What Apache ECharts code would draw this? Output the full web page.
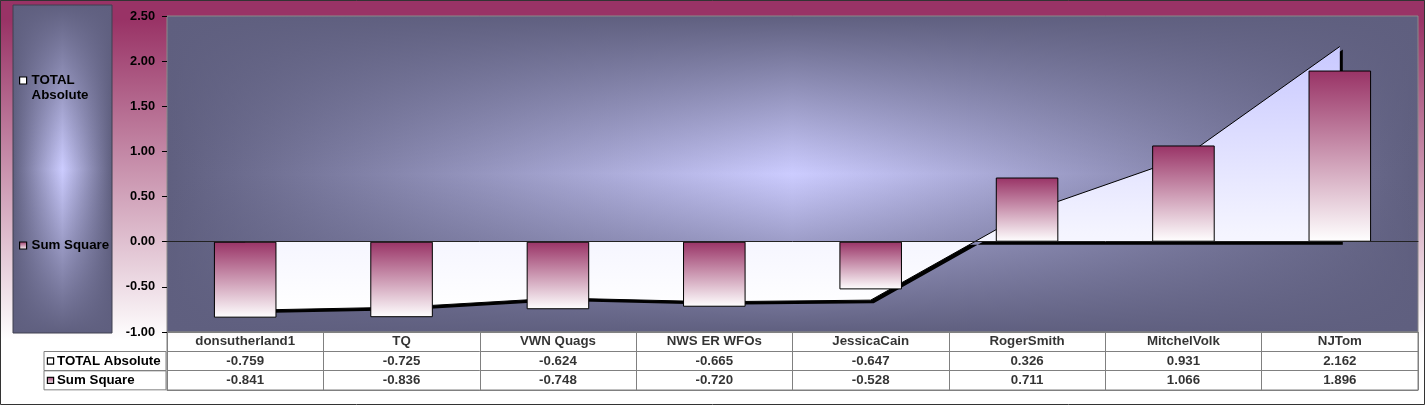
<!DOCTYPE html>
<html><head><meta charset="utf-8">
<script src="https://cdn.jsdelivr.net/npm/echarts@6/dist/echarts.min.js"></script>
<style>html,body{margin:0;padding:0;background:#fff}#c{width:1425px;height:405px}</style>
</head><body><div id="c"></div>
<script>
const categories = ['donsutherland1','TQ','VWN Quags','NWS ER WFOs','JessicaCain','RogerSmith','MitchelVolk','NJTom'];
const totalAbsolute = [-0.759,-0.725,-0.624,-0.665,-0.647,0.326,0.931,2.162];
const sumSquare = [-0.841,-0.836,-0.748,-0.720,-0.528,0.711,1.066,1.896];
const seriesNames = ['TOTAL Absolute','Sum Square'];
const yMin = -1, yMax = 2.5, yInterval = 0.5;

const PL=167, PT=16, PW=1251, PH=316;
const TT=PT+PH, TH=58;
const DARK='#5f5f7f', LIGHT='#ccccff';
const font='"Liberation Sans", Arial, sans-serif';
const LG = echarts.graphic.LinearGradient;
const hGrad = () => new LG(0,0,1,0,[{offset:0,color:DARK},{offset:0.5,color:LIGHT},{offset:1,color:DARK}]);
const vOverlay = () => new LG(0,0,0,1,[{offset:0,color:'rgba(95,95,127,1)'},{offset:0.5,color:'rgba(95,95,127,0)'},{offset:1,color:'rgba(95,95,127,1)'}]);
const barGrad = () => new LG(0,0,0,1,[{offset:0,color:'#993366'},{offset:1,color:'#ffffff'}]);
const areaGrad = () => new LG(0,0,0,1,[{offset:0,color:'#c8c8ff'},{offset:0.7,color:'#f4f4ff'},{offset:1,color:'#ffffff'}]);

const cellStyle = {borderColor:'#808080', borderWidth:1, width:118, height:19, lineHeight:19, padding:[0,0,0,4], align:'left'};
const boldTxt = {fontSize:13.3, fontWeight:'bold', color:'#000', fontFamily:font};

const chart = echarts.init(document.getElementById('c'), null, {renderer:'canvas'});
chart.setOption({
  animation:false,
  backgroundColor: new LG(0,0,0,1,[{offset:0,color:'#993366'},{offset:0.05,color:'#993366'},{offset:0.84,color:'#ffffff'},{offset:1,color:'#ffffff'}]),
  graphic:[
    {type:'rect', z:-2, shape:{x:PL,y:PT,width:PW,height:PH}, style:{fill:hGrad()}},
    {type:'rect', z:-1, shape:{x:PL,y:PT,width:PW,height:PH}, style:{fill:vOverlay(), stroke:'#8a8a8a', lineWidth:1}},
    {type:'rect', z:-2, shape:{x:13,y:5,width:99,height:328}, style:{fill:hGrad()}},
    {type:'rect', z:-1, shape:{x:13,y:5,width:99,height:328}, style:{fill:vOverlay(), stroke:'#404050', lineWidth:1}},
    {type:'rect', z:100, shape:{x:0.5,y:0.5,width:1424,height:404}, style:{fill:'none', stroke:'#333', lineWidth:1}}
  ],
  legend:[
    {left:19, top:58, padding:0, itemWidth:7, itemHeight:7,
     data:[{name:seriesNames[0], icon:'rect', itemStyle:{color:'#ffffff', borderColor:'#000', borderWidth:1.2}}],
     formatter: n => ' \nTOTAL\nAbsolute',
     textStyle:Object.assign({lineHeight:15}, boldTxt)},
    {left:19, top:238, padding:0, itemWidth:7, itemHeight:7,
     data:[{name:seriesNames[1], icon:'rect', itemStyle:{color:barGrad(), borderColor:'#000', borderWidth:1.2}}],
     textStyle:Object.assign({lineHeight:15}, boldTxt)}
  ],
  grid:[
    {left:PL, top:PT, width:PW, height:PH, show:false},
    {left:PL, top:TT, width:PW, height:TH, show:true, borderColor:'#808080', borderWidth:1, backgroundColor:'transparent'}
  ],
  xAxis:[
    {gridIndex:0, type:'category', data:categories, boundaryGap:true, z:10,
     axisLine:{onZero:true, lineStyle:{color:'#222', width:1}}, axisTick:{show:false}, axisLabel:{show:false}, splitLine:{show:false}},
    {gridIndex:1, type:'category', data:categories, boundaryGap:true,
     axisLine:{show:true, lineStyle:{color:'#808080'}}, axisTick:{show:false}, axisLabel:{show:false},
     splitLine:{show:true, interval:0, lineStyle:{color:'#808080', width:1}}}
  ],
  yAxis:[
    {gridIndex:0, type:'value', min:yMin, max:yMax, interval:yInterval,
     axisLine:{show:false}, axisTick:{show:true, length:5, lineStyle:{color:'#000'}},
     splitLine:{show:false},
     axisLabel:{margin:12, formatter:v=>v.toFixed(2), fontSize:12.8, fontWeight:'bold', color:'#000', fontFamily:font}},
    {gridIndex:1, type:'category', data:[{value:seriesNames[1], textStyle:cellStyle},{value:seriesNames[0], textStyle:cellStyle},'names'],
     axisLine:{show:true, lineStyle:{color:'#808080'}}, axisTick:{show:false},
     splitLine:{show:true, interval:0, lineStyle:{color:'#808080', width:1}},
     axisLabel:{margin:123, align:'left', interval:0, hideOverlap:false,
       formatter: v => v==='names' ? '' : (v===seriesNames[0] ? '{a|}{t|'+v+'}' : '{b|}{t|'+v+'}'),
       rich:{
         a:{width:5,height:5,borderColor:'#000',borderWidth:1.2,backgroundColor:'#ffffff'},
         b:{width:5,height:5,borderColor:'#000',borderWidth:1.2,backgroundColor:barGrad()},
         t:Object.assign({padding:[0,0,0,4]}, boldTxt)
       }}}
  ],
  series:[
    {name:seriesNames[0], type:'line', xAxisIndex:0, yAxisIndex:0, data:totalAbsolute, symbol:'none', z:2,
     lineStyle:{color:'#000', width:1},
     areaStyle:{color:areaGrad(), opacity:1, shadowColor:'#000', shadowBlur:0, shadowOffsetX:3, shadowOffsetY:3}},
    {name:seriesNames[1], type:'bar', xAxisIndex:0, yAxisIndex:0, data:sumSquare, barWidth:'40%', z:3,
     itemStyle:{color:barGrad(), borderColor:'#000', borderWidth:1}},
    {name:'tbl-names', type:'scatter', xAxisIndex:1, yAxisIndex:1, symbolSize:0, silent:true,
     data:categories.map((c,i)=>[i,'names',c]),
     label:Object.assign({show:true, position:'inside', formatter:p=>p.value[2]}, boldTxt)},
    {name:'tbl-total', type:'scatter', xAxisIndex:1, yAxisIndex:1, symbolSize:0, silent:true,
     data:totalAbsolute.map((v,i)=>[i,seriesNames[0],v]),
     label:Object.assign({show:true, position:'inside', formatter:p=>Number(p.value[2]).toFixed(3)}, boldTxt)},
    {name:'tbl-sum', type:'scatter', xAxisIndex:1, yAxisIndex:1, symbolSize:0, silent:true,
     data:sumSquare.map((v,i)=>[i,seriesNames[1],v]),
     label:Object.assign({show:true, position:'inside', formatter:p=>Number(p.value[2]).toFixed(3)}, boldTxt)}
  ]
});
</script></body></html>
